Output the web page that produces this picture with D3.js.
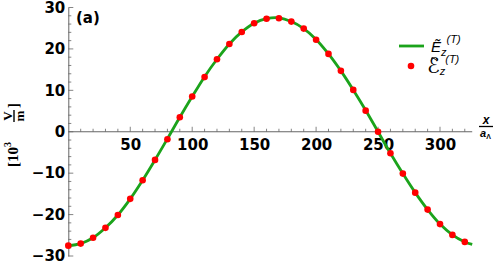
<!DOCTYPE html>
<html>
<head>
<meta charset="utf-8">
<script src="https://cdn.jsdelivr.net/npm/d3@7"></script>
<style>
  body { margin: 0; background: #fff; }
  svg { display: block; }
  .tick text { font-family: "DejaVu Sans", sans-serif; font-weight: bold; font-size: 15px; fill: #000; }
</style>
</head>
<body>
<div id="chart"></div>
<script>
(function() {
var width = 496,
  height = 264;

// x positions in units of a_Lambda
var xs = [0, 10, 20, 30, 40, 50, 60, 70, 80, 90, 100, 110, 120, 130, 140, 150, 160,
  170, 180, 190, 200, 210, 220, 230, 240, 250, 260, 270, 280, 290, 300, 310, 320];
// E_z^(T), solid green curve (last value at the end of the range)
var lineX = xs.concat([326]);
var lineVals = [-27.5, -27.0, -25.6, -23.2, -20.1, -16.2, -11.7, -6.8, -1.7, 3.5, 8.5,
  13.3, 17.5, 21.2, 24.1, 26.2, 27.3, 27.5, 26.6, 24.9, 22.3, 18.8, 14.7, 10.1, 5.2,
  0.0, -5.2, -10.1, -14.7, -18.8, -22.3, -24.9, -26.6, -27.2];
// script E_z^(T), red dots
var dotVals = [-27.5, -27.0, -25.6, -23.2, -20.1, -16.2, -11.7, -6.8, -1.8, 3.5, 8.5,
  13.2, 17.5, 21.2, 24.1, 26.2, 27.3, 27.4, 26.6, 24.9, 22.2, 18.8, 14.7, 10.1, 5.1,
  0.0, -5.2, -10.1, -14.7, -18.8, -22.3, -24.9, -26.6];
var xTicks = [50, 100, 150, 200, 250, 300];
var yTicks = [-30, -20, -10, 0, 10, 20, 30];

var svg = d3.select("#chart")
  .append("svg")
  .attr("width", width)
  .attr("height", height)
  .append("g")

var x = d3.scaleLinear().domain([0, 300]).range([68.3, 440])
var y = d3.scaleLinear().domain([-30, 30]).range([256, 7.5])

var axisColor = "#666"

// y axis
var yAxis = svg.append("g")
  .attr("transform", "translate(" + x(0) + ",0)")
  .call(d3.axisLeft(y).tickValues(yTicks).tickSize(0).tickPadding(3).tickFormat(d3.format("d")))
yAxis.select(".domain").attr("stroke", axisColor)
yAxis.selectAll(".tick text").text(function(d) { return d < 0 ? "\u2212" + Math.abs(d) : d })

var yMinor = d3.range(-30, 31, 2)
svg.selectAll(".ytick")
  .data(yMinor)
  .enter().append("line")
  .attr("x1", x(0))
  .attr("x2", function(d) { return x(0) + (d % 10 === 0 ? 5 : 3) })
  .attr("y1", function(d) { return y(d) })
  .attr("y2", function(d) { return y(d) })
  .attr("stroke", axisColor)
  .attr("stroke-width", 0.8)

// x axis
var xAxis = svg.append("g")
  .attr("transform", "translate(0," + y(0) + ")")
  .call(d3.axisBottom(x).tickValues(xTicks).tickSize(0).tickPadding(8))
xAxis.select(".domain").attr("d", "M" + x(0) + ",0H" + x(326)).attr("stroke", axisColor)

var xMinor = d3.range(10, 330, 10)
svg.selectAll(".xtick")
  .data(xMinor)
  .enter().append("line")
  .attr("x1", function(d) { return x(d) })
  .attr("x2", function(d) { return x(d) })
  .attr("y1", y(0))
  .attr("y2", function(d) { return y(0) - (d % 50 === 0 ? 5 : 3) })
  .attr("stroke", axisColor)
  .attr("stroke-width", 0.8)

// curve
var line = d3.line()
  .x(function(d, i) { return x(lineX[i]) })
  .y(function(d) { return y(d) })
  .curve(d3.curveCatmullRom)

svg.append("path")
  .datum(lineVals)
  .attr("d", line)
  .attr("fill", "none")
  .attr("stroke", "#1ba31b")
  .attr("stroke-width", 2.8)

svg.selectAll(".dot")
  .data(dotVals)
  .enter().append("circle")
  .attr("class", "dot")
  .attr("cx", function(d, i) { return x(xs[i]) })
  .attr("cy", function(d) { return y(d) })
  .attr("r", 3.3)
  .attr("fill", "#ff0000")

// panel label
svg.append("text")
  .attr("x", 76)
  .attr("y", 23)
  .style("font-family", "DejaVu Sans, sans-serif")
  .style("font-weight", "bold")
  .style("font-size", "15px")
  .text("(a)")

// y axis label  [10^3 V/m]
var yl = svg.append("g")
  .attr("transform", "translate(18,131) rotate(-90)")
  .style("font-family", "Liberation Serif, Times New Roman, serif")
  .style("font-weight", "bold")
  .style("font-size", "15px")
var t1 = yl.append("text").attr("x", -36).attr("y", 0)
t1.append("tspan").text("[10")
t1.append("tspan").attr("dy", -7).style("font-size", "10px").text("3")
yl.append("text").attr("x", 15).attr("y", -6).attr("text-anchor", "middle").style("font-size", "13px").text("V")
yl.append("line").attr("x1", 9).attr("x2", 21).attr("y1", -4).attr("y2", -4).attr("stroke", "#000").attr("stroke-width", 1.4)
yl.append("text").attr("x", 15).attr("y", 6).attr("text-anchor", "middle").style("font-size", "13px").text("m")
yl.append("text").attr("x", 23).attr("y", 0).text("]")

// x axis label  x / a_Lambda
var xl = svg.append("g")
  .style("font-family", "Liberation Sans, Arial, sans-serif")
  .style("font-weight", "bold")
xl.append("text").attr("x", 486).attr("y", 124).attr("text-anchor", "middle")
  .style("font-style", "italic").style("font-size", "12px").text("x")
xl.append("line").attr("x1", 479).attr("x2", 493).attr("y1", 126.5).attr("y2", 126.5)
  .attr("stroke", "#000").attr("stroke-width", 1.3)
var al = xl.append("text").attr("x", 480).attr("y", 137).style("font-size", "11px")
al.append("tspan").style("font-style", "italic").text("a")
al.append("tspan").attr("dy", 2).style("font-size", "7px").text("\u039B")

// legend
var lg = svg.append("g")
  .style("font-family", "Liberation Sans, Arial, sans-serif")
  .style("font-style", "italic")
lg.append("line").attr("x1", 399).attr("x2", 424).attr("y1", 46).attr("y2", 46)
  .attr("stroke", "#1ba31b").attr("stroke-width", 2.8)
var e1 = lg.append("text").attr("x", 431).attr("y", 52).style("font-size", "15px")
e1.append("tspan").text("E\u0303")
e1.append("tspan").attr("dy", 4).style("font-size", "11px").text("z")
e1.append("tspan").attr("dy", -13).style("font-size", "11px").text("(T)")

lg.append("circle").attr("cx", 411).attr("cy", 66).attr("r", 3.3).attr("fill", "#ff0000")
// tilde over the script E
lg.append("path")
  .attr("d", "M431,58.5 q1.5,-2 3,0 t3,0")
  .attr("fill", "none").attr("stroke", "#000").attr("stroke-width", 1)
var e2 = lg.append("text").attr("x", 427).attr("y", 73)
e2.append("tspan").style("font-family", "DejaVu Sans, sans-serif").style("font-size", "21px").text("\u2130")
e2.append("tspan").attr("dy", 2).style("font-size", "11px").text("z")
e2.append("tspan").attr("dy", -12).style("font-size", "11px").text("(T)")
})();
</script>
</body>
</html>
